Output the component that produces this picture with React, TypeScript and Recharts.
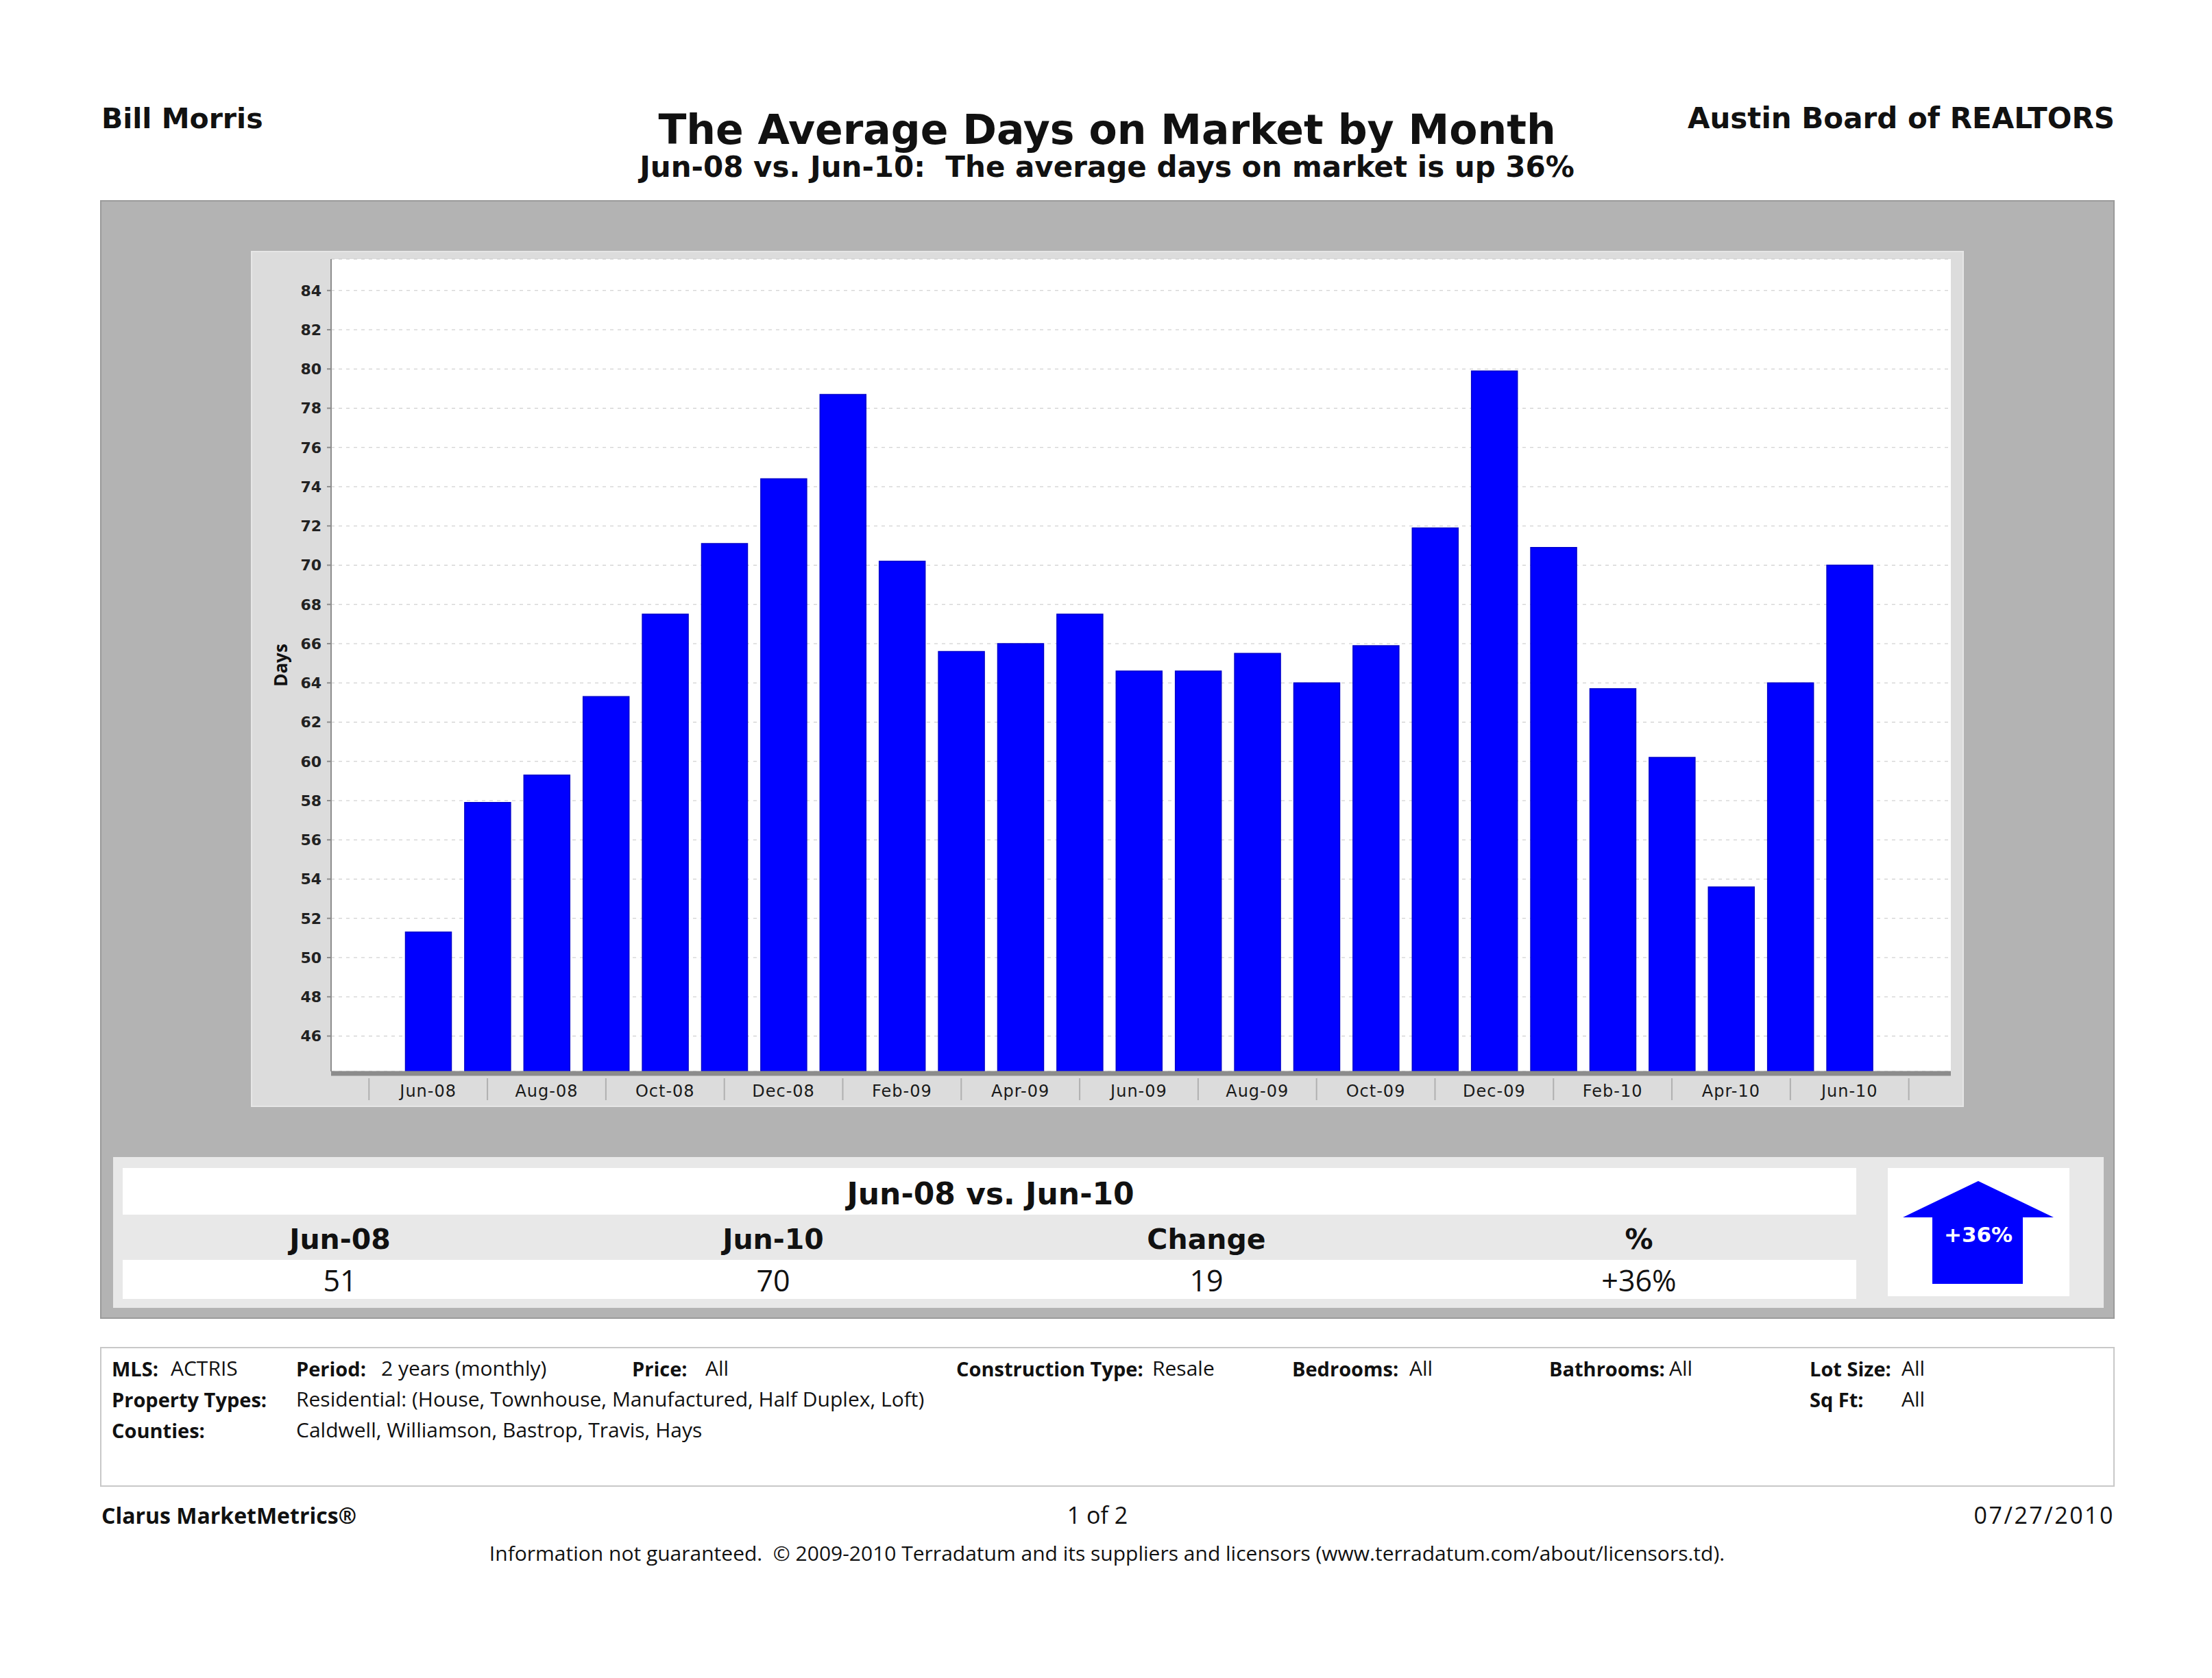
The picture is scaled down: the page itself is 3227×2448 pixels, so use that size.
import React from "react";
import { BarChart, Bar, XAxis, YAxis, CartesianGrid } from "recharts";

// Average days on market, Jun-08 .. Jun-10
const months = [
  "Jun-08", "Jul-08", "Aug-08", "Sep-08", "Oct-08", "Nov-08", "Dec-08",
  "Jan-09", "Feb-09", "Mar-09", "Apr-09", "May-09", "Jun-09", "Jul-09",
  "Aug-09", "Sep-09", "Oct-09", "Nov-09", "Dec-09", "Jan-10", "Feb-10",
  "Mar-10", "Apr-10", "May-10", "Jun-10",
];
const days = [
  51.3, 57.9, 59.3, 63.3, 67.5, 71.1, 74.4, 78.7, 70.2, 65.6, 66.0, 67.5,
  64.6, 64.6, 65.5, 64.0, 65.9, 71.9, 79.9, 70.9, 63.7, 60.2, 53.6, 64.0, 70.0,
];
const yTicks = [46, 48, 50, 52, 54, 56, 58, 60, 62, 64, 66, 68, 70, 72, 74, 76, 78, 80, 82, 84];
// month positions: even ones get a label, odd ones a separator line
const xTicks = [-1, ...months.map((_, i) => i), months.length];

const summaryHeads = ["Jun-08", "Jun-10", "Change", "%"];
const summaryValues = ["51", "70", "19", "+36%"];

const data = months.map((m, i) => ({ idx: i, month: m, days: days[i] }));

const FONT = "'Open Sans', 'DejaVu Sans', sans-serif";
const DJ = "'DejaVu Sans', sans-serif";

const Txt = ({ x, y, size, bold = false, align = "left", color = "#111", dj = false, spacing = 0, children }: any) => {
  const style: any = {
    position: "absolute",
    top: y - (dj ? 0.846 : 0.888) * size,
    fontSize: size,
    lineHeight: 1,
    fontWeight: bold ? 700 : 400,
    whiteSpace: "nowrap",
    color,
    letterSpacing: spacing,
    fontFamily: dj ? DJ : FONT,
  };
  if (align === "left") style.left = x;
  else if (align === "right") style.right = 3227 - x;
  else {
    style.left = x;
    style.transform = "translateX(-50%)";
  }
  return <div style={style}>{children}</div>;
};

const MonthTick = ({ x, y, payload }: any) => {
  const v = payload.value;
  if (v < 0 || v >= months.length || v % 2 === 1) {
    return <line x1={x} x2={x} y1={y + 2} y2={y + 34} stroke="#b0b0b0" strokeWidth={2} />;
  }
  return (
    <text x={x} y={y + 29} textAnchor="middle" fontSize={24} letterSpacing={1} fill="#1a1a1a" fontFamily={DJ}>
      {months[v]}
    </text>
  );
};

function Chart() {
  return (
    <BarChart width={2499} height={1249} data={data} margin={{ top: 12, right: 19, bottom: 0, left: 0 }}>
      <CartesianGrid xAxisId="m" yAxisId="m" vertical={false} fill="#ffffff" stroke="#c6c6c6" strokeDasharray="5 6" />
      <XAxis
        xAxisId="m"
        type="number"
        dataKey="idx"
        domain={[-1.64, 25.71]}
        allowDataOverflow
        ticks={xTicks}
        interval={0}
        height={52}
        tickLine={false}
        axisLine={{ stroke: "#8c8c8c", strokeWidth: 7, transform: "translate(0,3)" }}
        tick={<MonthTick />}
      />
      <XAxis xAxisId="t" orientation="top" type="number" domain={[0, 1]} height={0} tick={false} tickLine={false} axisLine={{ stroke: "#c4c4c4", strokeWidth: 2 }} />
      <YAxis
        yAxisId="m"
        type="number"
        domain={[44.2, 85.6]}
        allowDataOverflow
        ticks={yTicks}
        interval={0}
        width={117}
        tickSize={6}
        tickMargin={8}
        tickLine={{ stroke: "#8c8c8c", strokeWidth: 2 }}
        axisLine={{ stroke: "#8c8c8c", strokeWidth: 2 }}
        tick={{ fontSize: 22, fontWeight: 700, fill: "#222", fontFamily: DJ }}
        label={{
          value: "Days",
          angle: -90,
          position: "insideLeft",
          offset: 44,
          style: { textAnchor: "middle", fontSize: 26, fontWeight: 700, fill: "#111", fontFamily: FONT },
        }}
      />
      <YAxis yAxisId="r" orientation="right" type="number" domain={[0, 1]} width={0} tick={false} tickLine={false} axisLine={{ stroke: "#c4c4c4", strokeWidth: 2 }} />
      <Bar
        xAxisId="m"
        yAxisId="m"
        dataKey="days"
        barSize={67}
        fill="#0000ff"
        stroke="#0000cc"
        strokeWidth={1.5}
        isAnimationActive={false}
      />
    </BarChart>
  );
}

export default function App() {
  const colX = [496, 1128, 1760, 2391];
  return (
    <div style={{ position: "absolute", left: 0, top: 0, width: 3227, height: 2448, background: "#fff", overflow: "hidden" }}>
      {/* header */}
      <Txt x={148} y={188} size={41} bold dj>Bill Morris</Txt>
      <Txt x={1615} y={210} size={60} bold dj align="center">The Average Days on Market by Month</Txt>
      <Txt x={1615} y={259} size={42} bold dj align="center">Jun-08 vs. Jun-10:&nbsp; The average days on market is up 36%</Txt>
      <Txt x={3085} y={188} size={42} bold dj align="right">Austin Board of REALTORS</Txt>

      {/* gray panel */}
      <div style={{ position: "absolute", left: 146, top: 292, width: 2939, height: 1632, background: "#b3b3b3", boxSizing: "border-box", border: "2px solid #9a9a9a" }} />
      <div style={{ position: "absolute", left: 366, top: 366, width: 2499, height: 1249, background: "#dcdcdc", boxSizing: "border-box", border: "2px solid #e6e6e6" }}>
        <div style={{ position: "absolute", left: -2, top: -2 }}>
          <Chart />
        </div>
      </div>

      {/* summary */}
      <div style={{ position: "absolute", left: 165, top: 1688, width: 2904, height: 220, background: "#e8e8e8" }} />
      <div style={{ position: "absolute", left: 179, top: 1704, width: 2529, height: 68, background: "#fff" }} />
      <div style={{ position: "absolute", left: 179, top: 1838, width: 2529, height: 57, background: "#fff" }} />
      <Txt x={1445} y={1757} size={44} bold dj align="center">Jun-08 vs. Jun-10</Txt>
      {summaryHeads.map((h, i) => (
        <Txt key={h} x={colX[i]} y={1823} size={41} bold dj align="center">{h}</Txt>
      ))}
      {summaryValues.map((v, i) => (
        <Txt key={i} x={colX[i]} y={1884} size={43} align="center">{v}</Txt>
      ))}
      <div style={{ position: "absolute", left: 2754, top: 1704, width: 265, height: 187, background: "#fff" }} />
      <svg style={{ position: "absolute", left: 0, top: 0 }} width={3227} height={2448}>
        <polygon points="2886,1723 2996,1776 2951,1776 2951,1873 2819,1873 2819,1776 2776,1776" fill="#0000ff" />
        <text x={2886} y={1812} textAnchor="middle" fontSize={31} fill="#fff" fontFamily={DJ} fontWeight={700}>+36%</text>
      </svg>

      {/* criteria box */}
      <div style={{ position: "absolute", left: 146, top: 1965, width: 2939, height: 204, background: "#fff", boxSizing: "border-box", border: "2px solid #c8c8c8" }} />
      <Txt x={163} y={2008} size={29} bold>MLS:</Txt>
      <Txt x={249} y={2008} size={30}>ACTRIS</Txt>
      <Txt x={432} y={2008} size={29} bold>Period:</Txt>
      <Txt x={556} y={2008} size={30}>2 years (monthly)</Txt>
      <Txt x={922} y={2008} size={29} bold>Price:</Txt>
      <Txt x={1029} y={2008} size={30}>All</Txt>
      <Txt x={1395} y={2008} size={29} bold>Construction Type:</Txt>
      <Txt x={1681} y={2008} size={30}>Resale</Txt>
      <Txt x={1885} y={2008} size={29} bold>Bedrooms:</Txt>
      <Txt x={2056} y={2008} size={30}>All</Txt>
      <Txt x={2260} y={2008} size={29} bold>Bathrooms:</Txt>
      <Txt x={2435} y={2008} size={30}>All</Txt>
      <Txt x={2640} y={2008} size={29} bold>Lot Size:</Txt>
      <Txt x={2774} y={2008} size={30}>All</Txt>
      <Txt x={163} y={2053} size={29} bold>Property Types:</Txt>
      <Txt x={432} y={2053} size={30}>Residential: (House, Townhouse, Manufactured, Half Duplex, Loft)</Txt>
      <Txt x={2640} y={2053} size={29} bold>Sq Ft:</Txt>
      <Txt x={2774} y={2053} size={30}>All</Txt>
      <Txt x={163} y={2098} size={29} bold>Counties:</Txt>
      <Txt x={432} y={2098} size={30}>Caldwell, Williamson, Bastrop, Travis, Hays</Txt>

      {/* footer */}
      <Txt x={148} y={2223} size={32} bold>Clarus MarketMetrics®</Txt>
      <Txt x={1601} y={2223} size={34} align="center">1 of 2</Txt>
      <Txt x={3085} y={2223} size={34} spacing={2.5} align="right">07/27/2010</Txt>
      <Txt x={1615} y={2278} size={30} align="center">Information not guaranteed.&nbsp; © 2009-2010 Terradatum and its suppliers and licensors (www.terradatum.com/about/licensors.td).</Txt>
    </div>
  );
}
